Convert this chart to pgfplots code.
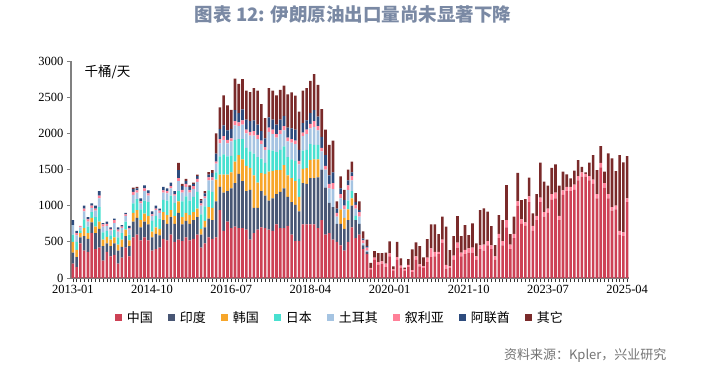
\documentclass[border=0pt]{standalone}
\usepackage{pgfplots}
\pgfplotsset{compat=1.18}
\usepackage{pgfplotstable}
\usepackage{fontspec}
\setmainfont{Liberation Serif}
\newfontfamily\cjk{Noto Sans CJK SC}
\definecolor{cCN}{RGB}{205,65,85}
\definecolor{cIN}{RGB}{72,86,116}
\definecolor{cKR}{RGB}{247,166,42}
\definecolor{cJP}{RGB}{72,224,208}
\definecolor{cTR}{RGB}{165,196,226}
\definecolor{cSY}{RGB}{255,128,152}
\definecolor{cAE}{RGB}{45,75,125}
\definecolor{cOT}{RGB}{122,42,42}
\definecolor{ctitle}{RGB}{122,137,164}
\definecolor{caxis}{RGB}{128,128,128}
\pgfplotstableread{
m cn in kr jp tr sy ae ot
0 200 150 150 100 130 0 70 0
1 150 140 100 110 90 30 30 0
2 480 80 60 40 40 20 0 0
3 380 200 110 120 110 40 40 0
4 360 180 80 90 70 30 30 0
5 620 150 60 80 60 30 30 0
6 400 220 90 130 90 30 40 0
7 420 260 100 200 120 40 60 0
8 240 200 90 100 80 30 20 0
9 360 120 90 80 70 30 30 0
10 300 140 90 60 70 20 20 0
11 320 160 80 110 90 40 20 0
12 200 180 80 100 80 30 30 0
13 280 150 100 90 70 20 20 0
14 420 160 90 110 80 20 20 0
15 300 140 80 80 70 20 30 0
16 560 220 120 130 120 40 40 20
17 600 230 110 150 90 30 30 20
18 520 180 100 150 80 30 40 0
19 560 220 110 180 130 40 40 0
20 520 220 120 190 90 30 40 0
21 380 180 80 150 70 20 40 0
22 400 210 90 160 80 20 40 0
23 420 170 90 140 80 30 30 0
24 540 260 110 170 100 30 50 0
25 520 230 120 200 100 30 40 0
26 600 240 100 200 100 30 50 0
27 500 250 110 180 100 20 40 0
28 530 370 160 140 140 40 110 100
29 510 230 100 220 120 40 50 30
30 560 230 110 230 130 40 40 30
31 520 230 120 200 110 40 40 20
32 540 260 110 210 110 40 30 20
33 600 240 120 230 140 40 40 20
34 420 180 80 200 120 30 40 20
35 480 220 90 200 110 30 40 30
36 560 260 160 230 140 40 40 35
37 540 260 170 220 160 40 60 40
38 560 500 300 100 120 30 110 280
39 940 320 170 250 180 60 140 300
40 650 530 250 280 200 50 150 415
41 780 420 230 250 180 50 130 345
42 690 550 220 230 200 40 130 265
43 710 600 300 300 200 60 150 435
44 690 750 260 220 180 50 130 405
45 690 650 300 280 200 60 150 420
46 670 530 350 250 200 50 140 400
47 530 690 300 230 220 50 150 400
48 620 350 450 300 250 60 150 445
49 670 300 350 350 250 60 140 470
50 700 500 250 200 200 50 130 375
51 690 450 300 150 180 40 120 280
52 670 400 400 300 250 60 140 405
53 650 450 380 280 230 60 140 400
54 740 420 330 250 200 50 130 405
55 690 500 300 280 220 50 150 410
56 690 550 320 260 220 60 140 420
57 720 400 300 250 220 50 140 460
58 600 450 330 260 230 50 150 495
59 510 500 330 280 230 50 150 470
60 510 410 200 250 200 50 150 530
61 740 570 200 250 200 50 130 450
62 740 560 220 250 220 60 130 445
63 740 640 250 220 220 60 150 445
64 740 640 260 200 250 80 150 500
65 690 700 250 200 200 60 130 440
66 800 700 0 0 250 50 150 385
67 600 650 0 0 250 50 150 350
68 620 420 0 0 200 60 120 420
69 530 450 0 0 250 80 150 440
70 500 250 0 0 100 50 60 100
71 450 300 200 0 150 60 80 165
72 380 300 150 0 120 50 80 140
73 500 300 150 120 150 60 70 150
74 700 300 100 100 150 60 50 150
75 550 250 0 60 100 50 40 125
76 600 150 0 0 100 60 30 120
77 400 50 0 0 30 40 25 100
78 330 30 0 0 20 40 20 90
79 120 0 0 0 0 20 0 70
80 250 0 0 0 0 30 0 90
81 180 0 0 0 0 40 0 125
82 200 0 0 0 0 30 0 115
83 150 0 0 0 0 50 0 150
84 300 0 0 0 0 40 0 167
85 100 0 0 0 0 20 0 40
86 250 0 0 0 0 40 0 210
87 140 0 0 0 0 30 0 102
88 100 0 0 0 0 20 0 23
89 150 0 0 0 0 30 0 82
90 80 0 0 0 0 30 0 286
91 250 0 0 0 0 50 0 193
92 160 0 0 0 0 30 0 252
93 140 0 0 0 0 20 0 126
94 220 0 0 0 0 60 0 259
95 290 0 0 0 0 120 0 332
96 300 0 0 0 0 60 0 382
97 330 0 0 0 0 30 0 248
98 490 0 0 0 0 40 0 317
99 130 0 0 0 0 50 0 529
100 140 0 0 0 0 20 0 227
101 250 0 0 0 0 60 0 270
102 420 0 0 0 0 70 0 367
103 300 0 0 0 0 50 0 230
104 330 0 0 0 0 60 0 342
105 350 0 0 0 0 60 0 184
106 350 0 0 0 0 70 0 336
107 250 0 0 0 0 50 0 180
108 400 0 0 0 0 50 0 490
109 380 0 0 0 0 80 0 503
110 450 0 0 0 0 60 0 407
111 400 0 0 0 0 50 0 268
112 250 0 0 0 0 50 0 156
113 550 0 0 0 0 60 0 260
114 450 0 0 0 0 60 0 290
115 700 0 0 0 0 100 0 485
116 400 0 0 0 0 60 0 148
117 550 0 0 0 0 60 0 237
118 1000 0 0 0 0 60 0 395
119 750 0 0 0 0 60 0 268
120 720 0 0 0 0 50 0 322
121 1050 0 0 0 0 80 0 256
122 650 0 0 0 0 70 0 174
123 800 0 0 0 0 60 0 301
124 1050 0 0 0 0 60 0 484
125 850 0 0 0 0 60 0 421
126 900 0 0 0 0 60 0 316
127 1080 0 0 0 0 80 0 364
128 1100 0 0 0 0 80 0 391
129 800 0 0 0 0 60 0 416
130 1150 0 0 0 0 60 0 259
131 1200 0 0 0 0 60 0 173
132 1200 0 0 0 0 60 0 118
133 1220 0 0 0 0 70 0 193
134 1350 0 0 0 0 60 0 221
135 1400 0 0 0 0 60 0 78
136 1400 0 0 0 0 40 0 21
137 1350 0 0 0 0 60 0 184
138 1300 0 0 0 0 60 0 340
139 1100 0 0 0 0 60 0 333
140 1530 0 0 0 0 60 0 234
141 1250 0 0 0 0 60 0 159
142 1100 0 0 0 0 60 0 563
143 930 0 0 0 0 50 0 674
144 950 0 0 0 0 50 0 479
145 600 0 0 0 0 50 0 1050
146 580 0 0 0 0 50 0 969
147 1050 0 0 0 0 50 0 586
}\data
\begin{document}
\begin{tikzpicture}
\useasboundingbox (0,0) rectangle (705pt,368pt);
\begin{axis}[
  at={(71pt,90pt)}, anchor=south west,
  scale only axis, width=558pt, height=217pt,
  xmin=-0.5, xmax=147.5, ymin=0, ymax=3000,
  ybar stacked, bar width=2.6pt,
  axis x line*=bottom, axis y line*=left,
  axis line style={draw=caxis, line width=1.2pt},
  tick align=outside,
  ytick={0,500,...,3000},
  xtick={0,21,...,147},
  xticklabels={2013-01,2014-10,2016-07,2018-04,2020-01,2021-10,2023-07,2025-04},
  minor xtick={0,...,147},
  major tick length=4pt, minor tick length=4pt,
  tick style={draw=black!80, line width=0.6pt},
  every y tick/.style={draw=caxis, line width=0.8pt},
  /pgf/number format/assume math mode=true,
  /pgf/number format/1000 sep={},
  tick label style={font=\fontsize{12.5}{13}\selectfont, text=black},
  legend columns=8,
  legend style={draw=none, fill=none, at={(0.482,-0.184)}, anchor=center,
    font=\cjk\fontsize{13}{14}\selectfont,
    /tikz/every odd column/.append style={column sep=3pt},
    /tikz/every even column/.append style={column sep=13pt}},
  legend image code/.code={\fill[#1] (0pt,-3.5pt) rectangle (7pt,3.5pt);},
]
\addplot+[fill=cCN, draw=none] table[x=m,y=cn]{\data};
\addplot+[fill=cIN, draw=none] table[x=m,y=in]{\data};
\addplot+[fill=cKR, draw=none] table[x=m,y=kr]{\data};
\addplot+[fill=cJP, draw=none] table[x=m,y=jp]{\data};
\addplot+[fill=cTR, draw=none] table[x=m,y=tr]{\data};
\addplot+[fill=cSY, draw=none] table[x=m,y=sy]{\data};
\addplot+[fill=cAE, draw=none] table[x=m,y=ae]{\data};
\addplot+[fill=cOT, draw=none] table[x=m,y=ot]{\data};
\legend{中国,印度,韩国,日本,土耳其,叙利亚,阿联酋,其它}
\end{axis}
\node[anchor=center, text=ctitle, font=\cjk\bfseries\fontsize{18.5}{20}\selectfont] at (353pt,353pt) {图表 12: 伊朗原油出口量尚未显著下降};
\node[anchor=west, font=\cjk\fontsize{13.5}{14}\selectfont] at (81pt,296pt) {千桶/天};
\node[anchor=east, text=black!55, font=\cjk\fontsize{13}{14}\selectfont] at (670pt,13pt) {资料来源：Kpler，兴业研究};
\end{tikzpicture}
\end{document}
